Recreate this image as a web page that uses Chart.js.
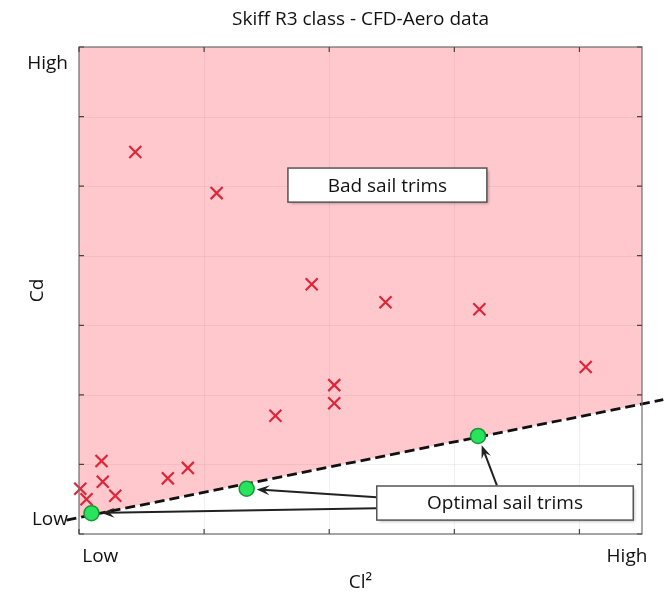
<!DOCTYPE html>
<html lang="en">
<head>
<meta charset="UTF-8">
<title>Skiff R3 class - CFD-Aero data</title>
<script src="https://cdn.jsdelivr.net/npm/chart.js"></script>
<style>
    body { margin: 0; background: #fff; }
</style>
</head>
<body>
<canvas id="chart" width="670" height="594"></canvas>
<script>
// red crosses: trims off the optimal front
const badX = [0.45, 1.10, 1.86, 2.45, 3.20, 4.05, 2.04, 2.04, 1.57, 0.87, 0.71, 0.18, 0.19, 0.29, 0.01, 0.06];
const badY = [5.49, 4.90, 3.59, 3.33, 3.23, 2.40, 2.14, 1.88, 1.70, 0.95, 0.80, 1.05, 0.75, 0.55, 0.65, 0.50];

// green dots: optimal trims
const optX = [0.10, 1.34, 3.19];
const optY = [0.30, 0.65, 1.41];

// dashed front line, runs past the frame on both ends
const frontX = [-0.10, 4.67];
const frontY = [0.20, 1.93];

// where that line meets the frame = lower edge of the pink zone
const zoneX = [0, 4.5];
const zoneY = [0.24, 1.87];

// axes
const xTickSteps = [0, 1, 2, 3, 4];
const yTickSteps = [0, 1, 2, 3, 4, 5, 6, 7];
const xLabelAt = [0.17, 4.38];
const yLabelAt = [0.20, 6.76];
const axisLabels = ['Low', 'High'];

const FONT = "'Open Sans', 'DejaVu Sans', sans-serif";
const FS = 19;
Chart.defaults.font.family = FONT;
Chart.defaults.color = '#111';

function pts(xs, ys) {
    return xs.map((x, i) => ({ x: x, y: ys[i] }));
}

// text boxes + arrows, anchored in data units
const boxes = [
    { text: 'Bad sail trims', x0: 1.67, x1: 3.26, y0: 4.77, y1: 5.26 },
    { text: 'Optimal sail trims', x0: 2.38, x1: 4.43, y0: 0.20, y1: 0.69 }
];
const arrows = [
    { from: [2.38, 0.37], to: 0 },
    { from: [2.38, 0.53], to: 1 },
    { from: [3.34, 0.70], to: 2 }
];

// grid, frame and the little inward tick marks
const framePlugin = {
    id: 'frame',
    beforeDatasetsDraw(chart) {
        const { ctx, chartArea: a, scales: { x, y } } = chart;
        ctx.save();
        ctx.strokeStyle = 'rgba(0,0,0,0.06)';
        ctx.lineWidth = 1;
        xTickSteps.forEach(v => {
            const px = Math.round(x.getPixelForValue(v)) + 0.5;
            ctx.beginPath(); ctx.moveTo(px, a.top); ctx.lineTo(px, a.bottom); ctx.stroke();
        });
        yTickSteps.forEach(v => {
            const py = Math.round(y.getPixelForValue(v)) + 0.5;
            ctx.beginPath(); ctx.moveTo(a.left, py); ctx.lineTo(a.right, py); ctx.stroke();
        });
        ctx.restore();
    },
    afterDatasetsDraw(chart) {
        const { ctx, chartArea: a, scales: { x, y } } = chart;
        ctx.save();
        ctx.strokeStyle = '#6e6e6e';
        ctx.lineWidth = 1.2;
        ctx.strokeRect(a.left, a.top, a.right - a.left, a.bottom - a.top);
        ctx.strokeStyle = '#444';
        const t = 5;
        xTickSteps.forEach(v => {
            const px = x.getPixelForValue(v);
            ctx.beginPath();
            ctx.moveTo(px, a.top); ctx.lineTo(px, a.top + t);
            ctx.moveTo(px, a.bottom); ctx.lineTo(px, a.bottom - t);
            ctx.stroke();
        });
        yTickSteps.forEach(v => {
            const py = y.getPixelForValue(v);
            ctx.beginPath();
            ctx.moveTo(a.left, py); ctx.lineTo(a.left + t, py);
            ctx.moveTo(a.right, py); ctx.lineTo(a.right - t, py);
            ctx.stroke();
        });
        ctx.restore();
    }
};

const notesPlugin = {
    id: 'notes',
    afterDatasetsDraw(chart) {
        const { ctx, scales: { x, y } } = chart;
        ctx.save();
        // arrows first, boxes sit on top of their tails
        ctx.strokeStyle = '#222';
        ctx.fillStyle = '#222';
        ctx.lineWidth = 2;
        arrows.forEach(ar => {
            const sx = x.getPixelForValue(ar.from[0]);
            const sy = y.getPixelForValue(ar.from[1]);
            const tx = x.getPixelForValue(optX[ar.to]);
            const ty = y.getPixelForValue(optY[ar.to]);
            const ang = Math.atan2(ty - sy, tx - sx);
            const c = Math.cos(ang), s = Math.sin(ang);
            const ex = tx - c * 10, ey = ty - s * 10;
            ctx.beginPath();
            ctx.moveTo(sx, sy);
            ctx.lineTo(ex - c * 6, ey - s * 6);
            ctx.stroke();
            ctx.beginPath();
            ctx.moveTo(ex, ey);
            ctx.lineTo(ex - c * 13 - s * 5, ey - s * 13 + c * 5);
            ctx.lineTo(ex - c * 8, ey - s * 8);
            ctx.lineTo(ex - c * 13 + s * 5, ey - s * 13 - c * 5);
            ctx.closePath();
            ctx.fill();
        });
        boxes.forEach(b => {
            const l = x.getPixelForValue(b.x0), r = x.getPixelForValue(b.x1);
            const t = y.getPixelForValue(b.y1), btm = y.getPixelForValue(b.y0);
            ctx.save();
            ctx.shadowColor = 'rgba(0,0,0,0.3)';
            ctx.shadowBlur = 3;
            ctx.shadowOffsetX = 2;
            ctx.shadowOffsetY = 2;
            ctx.fillStyle = '#fff';
            ctx.fillRect(l, t, r - l, btm - t);
            ctx.restore();
            ctx.strokeStyle = '#555';
            ctx.lineWidth = 1.5;
            ctx.strokeRect(l, t, r - l, btm - t);
            ctx.fillStyle = '#111';
            ctx.font = FS + 'px ' + FONT;
            ctx.textAlign = 'center';
            ctx.textBaseline = 'middle';
            ctx.fillText(b.text, (l + r) / 2, (t + btm) / 2 + 1);
        });
        ctx.restore();
    }
};

new Chart(document.getElementById('chart'), {
    type: 'line',
    data: {
        datasets: [
            {
                label: 'zone',
                data: pts(zoneX, zoneY),
                fill: 'end',
                backgroundColor: 'rgba(255, 0, 22, 0.215)',
                borderWidth: 0,
                pointRadius: 0,
                order: 4
            },
            {
                label: 'front',
                data: pts(frontX, frontY),
                fill: false,
                borderColor: '#111',
                borderWidth: 2.8,
                borderDash: [10, 5],
                pointRadius: 0,
                clip: false,
                order: 3
            },
            {
                label: 'bad',
                data: pts(badX, badY),
                showLine: false,
                pointStyle: 'crossRot',
                pointRadius: 8.5,
                pointBorderWidth: 2.2,
                pointBorderColor: '#de2638',
                clip: false,
                order: 2
            },
            {
                label: 'optimal',
                data: pts(optX, optY),
                showLine: false,
                pointStyle: 'circle',
                pointRadius: 7.5,
                pointBackgroundColor: '#27e45c',
                pointBorderColor: '#17963a',
                pointBorderWidth: 1.5,
                clip: false,
                order: 1
            }
        ]
    },
    options: {
        responsive: false,
        animation: false,
        events: [],
        layout: { padding: { left: 0, right: 28, top: 0, bottom: 0 } },
        plugins: {
            legend: { display: false },
            tooltip: { enabled: false },
            title: {
                display: true,
                fullSize: false,
                text: 'Skiff R3 class - CFD-Aero data',
                color: '#111',
                font: { size: FS, weight: 'normal' },
                padding: { top: 8, bottom: 16.2 }
            }
        },
        scales: {
            x: {
                type: 'linear',
                min: 0,
                max: 4.5,
                afterBuildTicks: s => { s.ticks = xLabelAt.map(v => ({ value: v })); },
                afterFit: s => { s.height = 60; },
                grid: { display: false, drawTicks: false },
                border: { display: false },
                ticks: {
                    callback: (v, i) => axisLabels[i],
                    font: { size: FS },
                    padding: 11,
                    maxRotation: 0,
                    autoSkip: false
                },
                title: { display: true, text: 'Cl²', font: { size: FS }, padding: 0 }
            },
            y: {
                type: 'linear',
                min: 0,
                max: 7,
                afterBuildTicks: s => { s.ticks = yLabelAt.map(v => ({ value: v })); },
                afterFit: s => { s.width = 79; },
                grid: { display: false, drawTicks: false },
                border: { display: false },
                ticks: {
                    callback: (v, i) => axisLabels[i],
                    font: { size: FS },
                    padding: 11,
                    autoSkip: false
                },
                title: { display: true, text: 'Cd', font: { size: FS }, padding: { top: 26.6, bottom: 0 } }
            }
        }
    },
    plugins: [framePlugin, notesPlugin]
});
</script>
</body>
</html>
